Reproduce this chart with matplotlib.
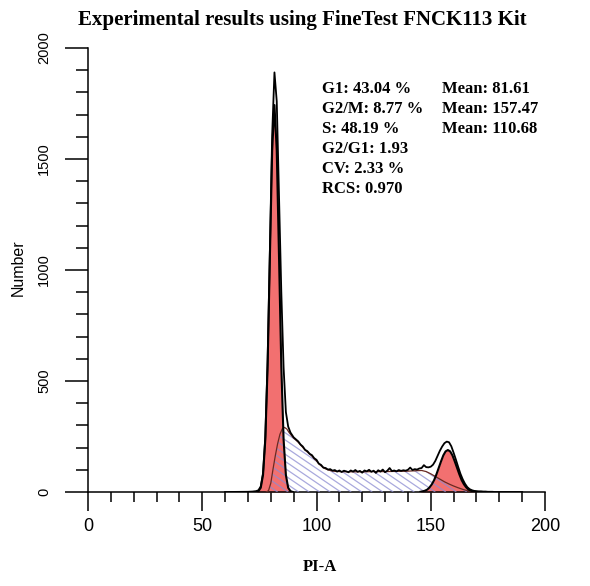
import numpy as np
import matplotlib
matplotlib.use("Agg")
import matplotlib.pyplot as plt
from matplotlib.collections import LineCollection
from matplotlib.ticker import MultipleLocator

# measured histogram (channel, count)
total_x = [60, 70, 72, 73.6, 74.6, 75.6, 76.6, 77.6, 78.6, 79.6, 80.6, 81.6,
           82.6, 83.6, 84.6, 85.6, 86.6, 87.6, 88.6,
           90, 91, 92, 93, 94, 95, 96, 97, 98, 99,
           100, 101, 102, 103, 104, 105, 106, 107, 108, 109,
           110, 111, 112, 113, 114, 115, 116, 117, 118, 119,
           120, 121, 122, 123, 124, 125, 126, 127, 128, 129,
           130, 131, 132, 133, 134, 135, 136, 137, 138, 139,
           140, 141, 142, 143, 144, 145, 146, 147, 148, 149,
           150, 151, 152, 153, 154, 155, 156, 157, 158, 159,
           160, 161, 162, 163, 164, 165, 166, 167, 168, 169,
           170, 171, 172, 173, 174, 175, 176, 177, 178, 180, 190]
total_y = [0, 1, 2, 4, 8, 25, 85, 250, 590, 1090, 1610, 1890,
           1760, 1330, 900, 560, 360, 295, 268,
           246, 237, 228, 214, 205, 190, 184, 172, 166, 152,
           145, 128, 122, 110, 108, 101, 103, 96, 99, 92,
           97, 90, 96, 93, 89, 97, 92, 99, 91, 95,
           87, 97, 93, 100, 91, 96, 86, 98, 92, 101,
           89, 96, 108, 94, 97, 93, 99, 95, 98, 96,
           100, 110, 99, 103, 101, 106, 108, 121, 112, 111,
           114, 123, 140, 163, 186, 205, 220, 227, 224, 206,
           177, 146, 113, 82, 57, 37, 22, 13, 8, 5,
           4, 3, 3, 2, 2, 1, 1, 1, 0, 0, 0]

# G0/G1 fitted peak
g1_x = [73.6, 74.6, 75.6, 76.6, 77.6, 78.6, 79.6, 80.6, 81.6, 82.6, 83.6,
        84.6, 85.6, 86.6, 87.6, 88.6, 89.6]
g1_y = [0, 4, 19, 77, 236, 566, 1057, 1538, 1743, 1538, 1057,
        566, 236, 77, 19, 4, 0]

# G2/M fitted peak
g2_x = [145.5, 146.5, 147.5, 148.5, 149.5, 150.5, 151.5, 152.5, 153.5, 154.5,
        155.5, 156.5, 157.5, 158.5, 159.5, 160.5, 161.5, 162.5, 163.5, 164.5,
        165.5, 166.5, 167.5, 168.5, 169.5]
g2_y = [1, 3, 6, 11, 21, 35, 54, 80, 109, 138,
        165, 183, 189, 183, 165, 138, 109, 80, 54, 35,
        21, 11, 6, 3, 1]

# S phase fit
s_x = [78, 79, 80, 81, 82, 83, 84, 85, 86, 87,
       88, 89, 90, 91, 92, 93, 94, 95, 96, 97,
       98, 99, 100, 101, 102, 103, 104, 105, 106, 107, 108,
       110, 115, 120, 125, 130, 135, 140, 144,
       146, 148, 150, 152, 154, 156, 158, 160, 162, 164, 166, 168, 170]
s_y = [0, 6, 40, 105, 165, 218, 260, 284, 291, 284,
       268, 255, 243, 234, 224, 212, 201, 189, 180, 171,
       162, 150, 140, 127, 118, 109, 104, 100, 97, 95, 93,
       92, 91, 91, 92, 92, 93, 94, 96,
       97, 92, 82, 70, 58, 46, 36, 27, 19, 12, 6, 2, 0]

stats_left = ["G1: 43.04 %", "G2/M: 8.77 %", "S: 48.19 %",
              "G2/G1: 1.93", "CV: 2.33 %", "RCS: 0.970"]
stats_right = ["Mean: 81.61", "Mean: 157.47", "Mean: 110.68"]

RED = "#F27070"
HATCH = "#8C8CD2"
SERIF = "Liberation Serif"
SANS = "Liberation Sans"

fig = plt.figure(figsize=(5.9, 5.86), dpi=100)
ax = fig.add_axes([88 / 590, 1 - 492 / 586, 457 / 590, 444 / 586])

# fitted peaks
ax.fill_between(g1_x, g1_y, color=RED, lw=0, zorder=2)
ax.fill_between(g2_x, g2_y, color=RED, lw=0, zorder=2)

# S phase: hand made diagonal hatching clipped to the S area
s_area = ax.fill_between(s_x, s_y, facecolor="none", edgecolor="none", zorder=3)
offs = np.arange(60, 260, 4.6)
segs = [[(c - 50, 50 * 7.0), (c, 0)] for c in offs]
hatch = LineCollection(segs, colors=HATCH, linewidths=0.9, alpha=0.75, zorder=3)
ax.add_collection(hatch)
hatch.set_clip_path(s_area.get_paths()[0], ax.transData)

ax.plot(s_x, s_y, color="#6a2a22", lw=0.9, zorder=4)
ax.plot(g1_x, g1_y, color="black", lw=1.5, zorder=5)
ax.plot(g2_x, g2_y, color="black", lw=1.5, zorder=5)
ax.plot(total_x, total_y, color="black", lw=1.3, zorder=6)

for i, s in enumerate(stats_left):
    ax.text(102.4, 1815 - i * 90, s, ha="left", va="center", fontsize=12,
            family=SERIF, weight="bold")
for i, s in enumerate(stats_right):
    ax.text(154.9, 1815 - i * 90, s, ha="left", va="center", fontsize=12,
            family=SERIF, weight="bold")

ax.set_xlim(0, 200)
ax.set_ylim(0, 2000)
ax.xaxis.set_major_locator(MultipleLocator(50))
ax.xaxis.set_minor_locator(MultipleLocator(10))
ax.yaxis.set_major_locator(MultipleLocator(500))
ax.yaxis.set_minor_locator(MultipleLocator(100))

for side in ["top", "right"]:
    ax.spines[side].set_visible(False)
for side in ["left", "bottom"]:
    ax.spines[side].set_linewidth(1.1)

ax.tick_params(axis="x", which="major", length=13.7, width=1.1, pad=5, labelsize=13)
ax.tick_params(axis="x", which="minor", length=7.2, width=1.1)
ax.tick_params(axis="y", which="major", length=16.5, width=1.1, pad=10,
               labelsize=10.5, labelrotation=90)
ax.tick_params(axis="y", which="minor", length=8.6, width=1.1)
for lbl in ax.get_xticklabels() + ax.get_yticklabels():
    lbl.set_family(SANS)
for lbl in ax.get_yticklabels():
    lbl.set_va("center")

fig.text(302 / 590, 1 - 20 / 586, "Experimental results using FineTest FNCK113 Kit",
         ha="center", va="center", fontsize=15, family=SERIF, weight="bold")
fig.text(320 / 590, 1 - 567 / 586, "PI-A", ha="center", va="center",
         fontsize=12, family=SERIF, weight="bold")
fig.text(18 / 590, 1 - 268 / 586, "Number", ha="center", va="center",
         rotation=90, fontsize=11.5, family=SANS)

fig.savefig("out.png", dpi=100)
